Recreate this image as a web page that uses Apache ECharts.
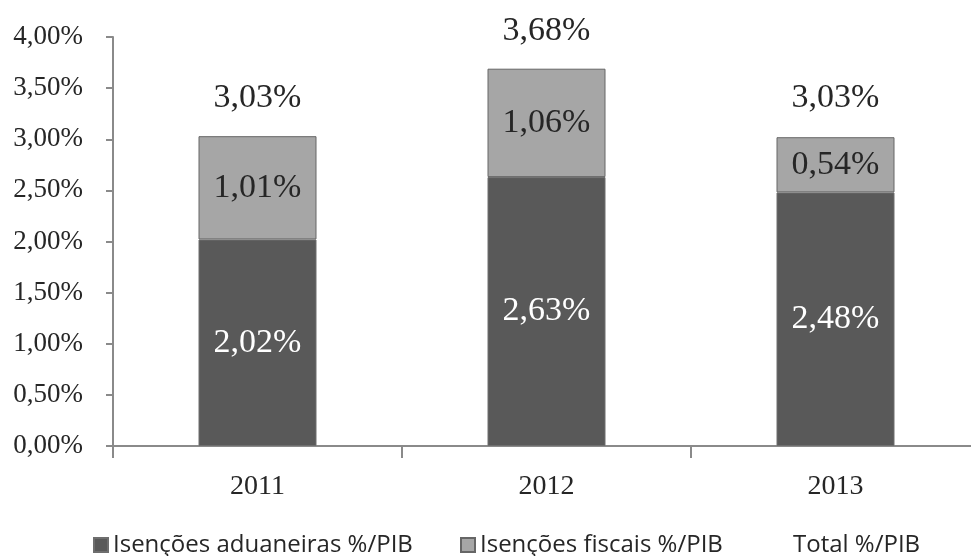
<!DOCTYPE html>
<html>
<head>
<meta charset="utf-8">
<script src="https://cdn.jsdelivr.net/npm/echarts@6/dist/echarts.min.js"></script>
<style>
  html, body { margin: 0; padding: 0; background: #fff; }
  #chart { width: 971px; height: 556px; }
</style>
</head>
<body>
<div id="chart"></div>
<script>
// Exemptions as a share of GDP, by year
const years = ['2011', '2012', '2013'];
const aduaneiras = [2.02, 2.63, 2.48];
const fiscais = [1.01, 1.06, 0.54];
const totais = [3.03, 3.68, 3.03];
const seriesNames = ['Isenções aduaneiras %/PIB', 'Isenções fiscais %/PIB', 'Total %/PIB'];

const serif = '"Liberation Serif", "Times New Roman", serif';
const sans = '"Open Sans", "Noto Sans", sans-serif';
const pct = v => v.toFixed(2).replace('.', ',') + '%';
const axisColor = '#8a8a8a';

const legendBase = {
  bottom: -6,
  itemWidth: 14,
  itemHeight: 14,
  itemGap: 0,
  textStyle: { fontFamily: sans, fontSize: 24, color: '#262626', padding: [0, 0, 0, 0] }
};

const chart = echarts.init(document.getElementById('chart'), null, { renderer: 'canvas' });
chart.setOption({
  animation: false,
  backgroundColor: '#ffffff',
  grid: { left: 113, right: -9, top: 37, bottom: 110, outerBoundsMode: 'none' },
  legend: [
    Object.assign({}, legendBase, { left: 88, data: [{ name: seriesNames[0], icon: 'rect' }] }),
    Object.assign({}, legendBase, { left: 455, data: [{ name: seriesNames[1], icon: 'rect' }] }),
    Object.assign({}, legendBase, { left: 769, data: [{ name: seriesNames[2], icon: 'none' }] })
  ],
  xAxis: {
    type: 'category',
    data: years,
    boundaryGap: true,
    axisLine: { lineStyle: { color: axisColor, width: 2 } },
    axisTick: { show: true, length: 12, lineStyle: { color: axisColor, width: 2 } },
    axisLabel: { fontFamily: serif, fontSize: 28, color: '#262626', margin: 27 }
  },
  yAxis: {
    type: 'value',
    min: 0,
    max: 4,
    interval: 0.5,
    axisLine: { show: true, lineStyle: { color: axisColor, width: 2 } },
    axisTick: { show: true, length: 7, lineStyle: { color: axisColor, width: 2 } },
    splitLine: { show: false },
    axisLabel: { fontFamily: serif, fontSize: 27, color: '#262626', margin: 30, formatter: pct }
  },
  series: [
    {
      name: seriesNames[0],
      type: 'bar',
      stack: 'total',
      barWidth: 118,
      data: aduaneiras,
      itemStyle: { color: '#595959', borderColor: '#6e6e6e', borderWidth: 1 },
      label: {
        show: true, position: 'inside', color: '#ffffff',
        fontFamily: serif, fontSize: 34,
        formatter: p => pct(p.value)
      }
    },
    {
      name: seriesNames[1],
      type: 'bar',
      stack: 'total',
      barWidth: 118,
      data: fiscais,
      itemStyle: { color: '#a6a6a6', borderColor: '#666666', borderWidth: 1 },
      label: {
        show: true, position: 'inside', color: '#262626',
        fontFamily: serif, fontSize: 34,
        formatter: p => pct(p.value)
      }
    },
    {
      name: seriesNames[2],
      type: 'line',
      data: totais,
      symbol: 'circle',
      symbolSize: 1,
      itemStyle: { color: 'rgba(0,0,0,0)' },
      lineStyle: { opacity: 0 },
      label: {
        show: true, position: 'top', distance: 21, color: '#262626',
        fontFamily: serif, fontSize: 34,
        formatter: p => pct(p.value)
      }
    }
  ]
});
</script>
</body>
</html>
